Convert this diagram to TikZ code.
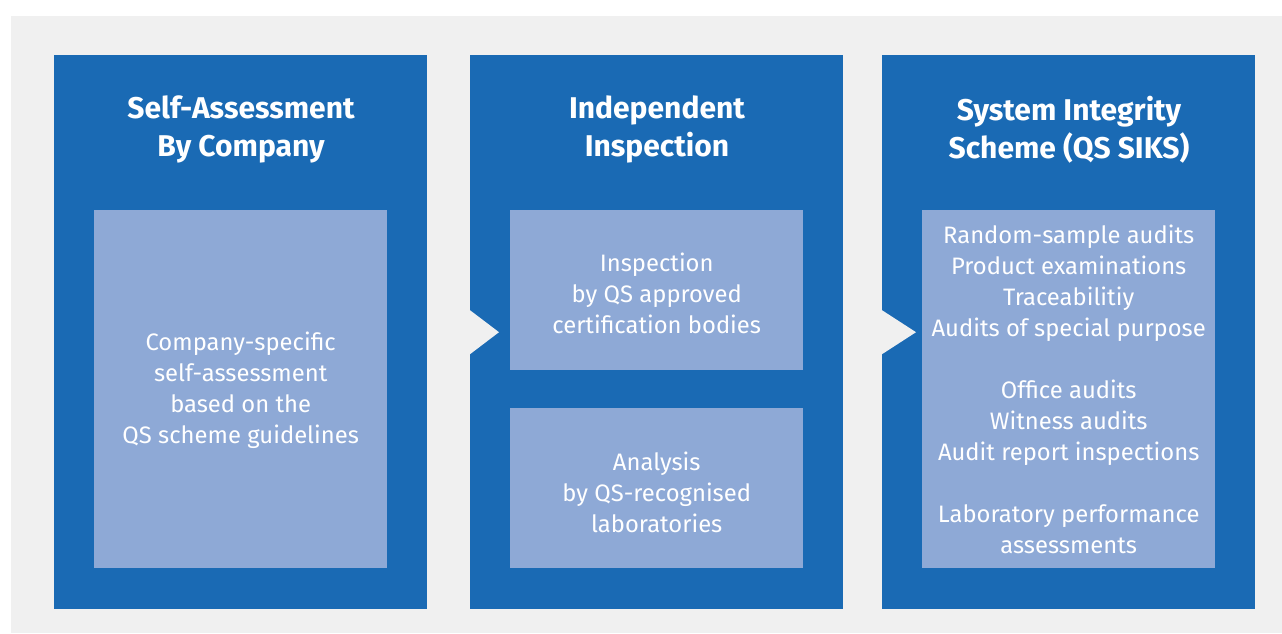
\documentclass[tikz,border=0pt]{standalone}
\usepackage{fontspec}
\setmainfont{Fira Sans}
\definecolor{panelblue}{RGB}{26,106,180}
\definecolor{innerblue}{RGB}{142,169,214}
\definecolor{bggray}{RGB}{240,240,240}
\begin{document}
\begin{tikzpicture}[x=1pt,y=-1pt,
  panel/.style={fill=panelblue,draw=none,minimum width=373pt,minimum height=554pt,anchor=north west,inner sep=0pt},
  inner/.style={fill=innerblue,draw=none,minimum width=293pt,anchor=north west,inner sep=0pt},
  titletext/.style={text=white,font=\fontsize{30}{38}\selectfont\bfseries,align=center},
  bodytext/.style={text=white,font=\fontsize{23.8}{31}\selectfont,align=center},
  notch/.style={fill=bggray,draw=none}]
\useasboundingbox (0,0) rectangle (1282,633);
\fill[white] (0,0) rectangle (1282,633);
\fill[bggray] (11,16) rectangle (1282,633);
% panels
\node[panel] (p1) at (54,55) {};
\node[panel] (p2) at (470,55) {};
\node[panel] (p3) at (882,55) {};
% arrows
\fill[notch] (p2.west) ++(0,-22) -- ++(29,22) -- ++(-29,22) -- cycle;
\fill[notch] (p3.west) ++(0,-22) -- ++(34,22) -- ++(-34,22) -- cycle;
% titles
\node[titletext] (t1) at (241,129.5) {Self-Assessment\\By Company};
\node[titletext] (t2) at (657,129.5) {Independent\\Inspection};
\node[titletext] (t3) at (1069,129.5) {System Integrity\\Scheme (QS SIKS)};
% inner boxes
\node[inner,minimum height=358pt] (b1) at (94,210) {};
\node[inner,minimum height=160pt] (b2a) at (510,210) {};
\node[inner,minimum height=160pt] (b2b) at (510,408) {};
\node[inner,minimum height=358pt] (b3) at (922,210) {};
% inner texts
\node[bodytext] (x1) at ([yshift=-1]b1.center) {Company-specific\\self-assessment\\based on the\\QS scheme guidelines};
\node[bodytext] (x2a) at ([yshift=-3]b2a.center) {Inspection\\by QS approved\\certification bodies};
\node[bodytext] (x2b) at ([yshift=-4]b2b.center) {Analysis\\by QS-recognised\\laboratories};
\node[bodytext] (x3) at (b3.center) {Random-sample audits\\Product examinations\\Traceabilitiy\\Audits of special purpose\\[31pt]Office audits\\Witness audits\\Audit report inspections\\[31pt]Laboratory performance\\assessments};
\end{tikzpicture}
\end{document}
